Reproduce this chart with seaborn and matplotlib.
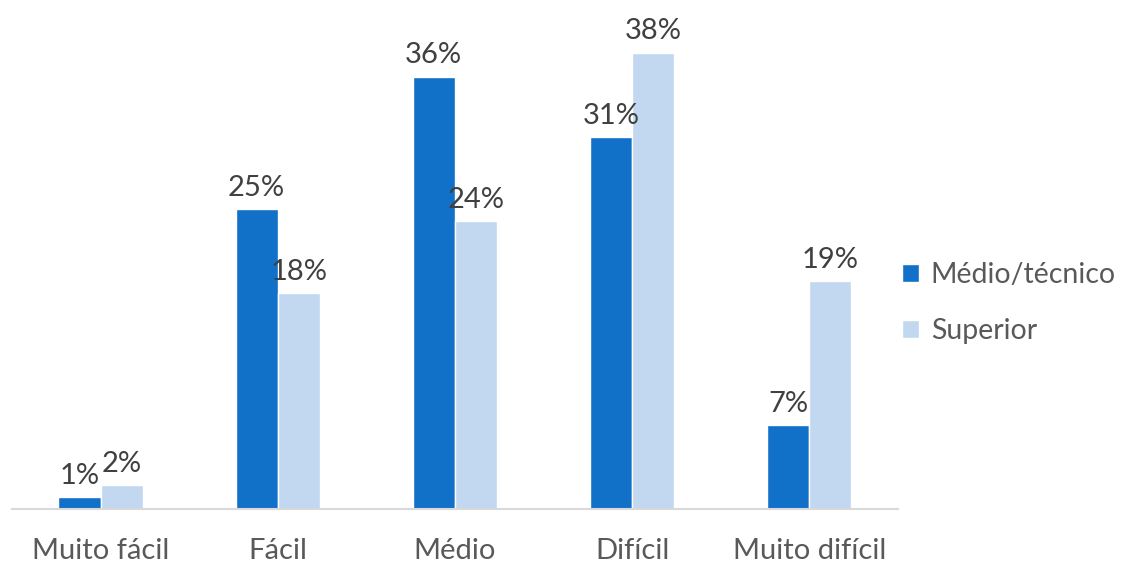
import matplotlib
matplotlib.use("Agg")
import matplotlib.pyplot as plt
import seaborn as sns
import pandas as pd

categories = ["Muito fácil", "Fácil", "Médio", "Difícil", "Muito difícil"]
series_names = ["Médio/técnico", "Superior"]
medio_tecnico = [1, 25, 36, 31, 7]
superior = [2, 18, 24, 38, 19]

df = pd.DataFrame({
    "categoria": categories * 2,
    "grupo": [series_names[0]] * 5 + [series_names[1]] * 5,
    "valor": medio_tecnico + superior,
})

sns.set_theme(style="white")
plt.rcParams["font.family"] = ["Lato", "DejaVu Sans"]

colors = ["#1170C8", "#C2D8F0"]
text_color = "#595959"
fs = 21

fig = plt.figure(figsize=(11.27, 5.63), dpi=100)
ax = fig.add_axes([0.0106, 0.096, 0.786, 0.904])

sns.barplot(data=df, x="categoria", y="valor", hue="grupo", order=categories,
            hue_order=series_names, palette=colors, width=0.475, gap=0,
            saturation=1, ax=ax, errorbar=None)

for container in ax.containers:
    ax.bar_label(container, labels=[f"{v:.0f}%" for v in container.datavalues],
                 padding=6, fontsize=fs, color="#404040")

ax.set_ylim(0, 42.4)
ax.set_xlim(-0.5, 4.5)
ax.set_xlabel("")
ax.set_ylabel("")
ax.set_yticks([])
ax.tick_params(axis="x", length=0, pad=21, labelsize=fs, labelcolor=text_color)
for side in ["top", "right", "left"]:
    ax.spines[side].set_visible(False)
ax.spines["bottom"].set_color("#D9D9D9")
ax.spines["bottom"].set_linewidth(1.5)

leg = ax.legend(loc="upper left", bbox_to_anchor=(0.79, 0.555),
                bbox_transform=fig.transFigure, frameon=False,
                fontsize=20.5, labelspacing=1.05, handlelength=0.62,
                handleheight=0.62, handletextpad=0.4, borderaxespad=0)
for t in leg.get_texts():
    t.set_color(text_color)

fig.savefig("out.png", dpi=100)
